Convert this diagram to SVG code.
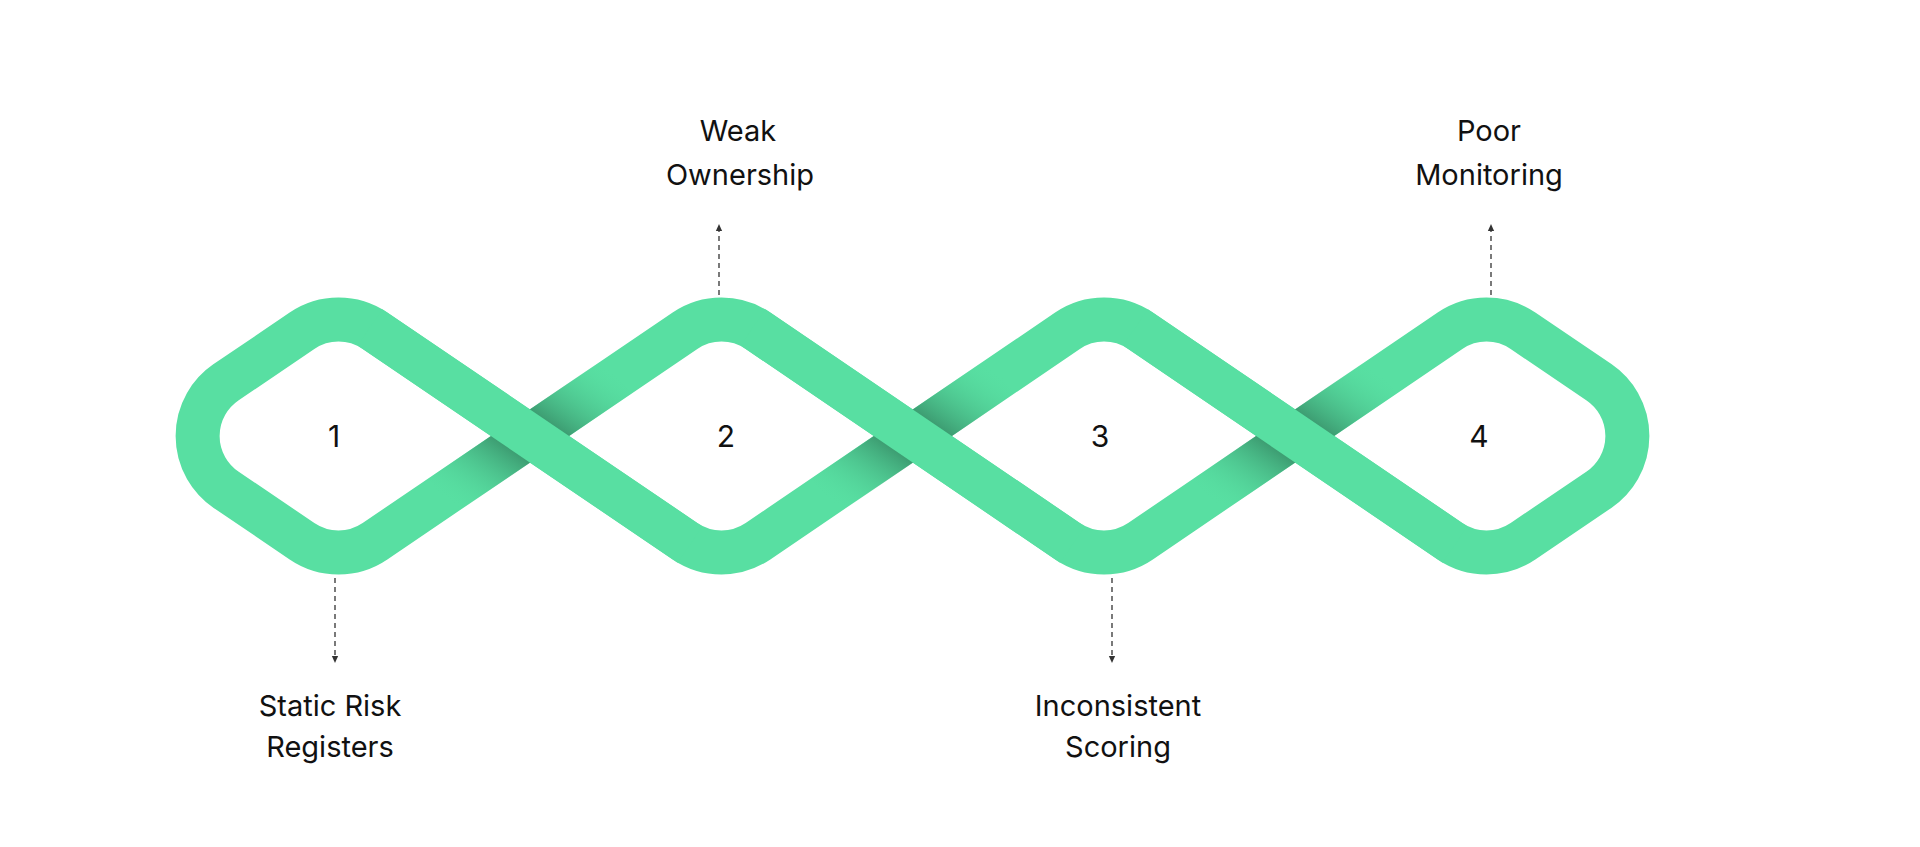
<svg xmlns="http://www.w3.org/2000/svg" width="1920" height="847" viewBox="0 0 1920 847">
<style>
.band{fill:none;stroke:#58DFA2;stroke-width:44;stroke-linejoin:round}
.over{fill:none;stroke:#58DFA2;stroke-width:44;stroke-linecap:butt}
.sh{fill:none;stroke:url(#sg);stroke-width:44;stroke-linecap:butt}
.dash{stroke:#333;stroke-width:1.3;stroke-dasharray:5 4;fill:none}
.num{font-family:Inter,"Liberation Sans",sans-serif;font-size:30px;fill:#111;text-anchor:middle}
.lbl{font-family:Inter,"Liberation Sans",sans-serif;font-size:29px;fill:#111;text-anchor:middle}
</style>
<defs>
<linearGradient id="sg" x1="0" y1="1" x2="1" y2="0">
<stop offset="0" stop-color="#58DFA2" stop-opacity="0"/>
<stop offset="0.5" stop-color="#2a6e50" stop-opacity="0.95"/>
<stop offset="1" stop-color="#58DFA2" stop-opacity="0"/>
</linearGradient>
<marker id="ah" viewBox="0 0 10 10" refX="5" refY="5" markerWidth="6" markerHeight="6" orient="auto">
<path d="M0,1 L9,5 L0,9 Z" fill="#333"/>
</marker>
</defs>
<rect width="1920" height="847" fill="#fff"/>
<g id="chain">
<path class="band" d="M226,382.3 L302,330.8 A65,65 0 0 1 375,330.8 L685,541.2 A65,65 0 0 0 758,541.2 L1067.5,330.8 A65,65 0 0 1 1140.5,330.8 L1450,541.2 A65,65 0 0 0 1523,541.2 L1599,489.7 A65,65 0 0 0 1599,382.3 L1523,330.8 A65,65 0 0 0 1450,330.8 L1140.5,541.2 A65,65 0 0 1 1067.5,541.2 L758,330.8 A65,65 0 0 0 685,330.8 L375,541.2 A65,65 0 0 1 302,541.2 L226,489.7 A65,65 0 0 1 226,382.3 Z"/>
<line class="sh" x1="441" y1="496.7" x2="619" y2="375.3"/>
<line class="sh" x1="824" y1="496.7" x2="1002" y2="375.3"/>
<line class="sh" x1="1206" y1="496.7" x2="1384" y2="375.3"/>
<line class="over" x1="370" y1="327.4" x2="690" y2="544.6"/>
<line class="over" x1="753" y1="327.4" x2="1072.5" y2="544.6"/>
<line class="over" x1="1135.5" y1="327.4" x2="1455" y2="544.6"/>
</g>
<g id="connectors">
<line class="dash" x1="335" y1="578" x2="335" y2="660" marker-end="url(#ah)"/>
<line class="dash" x1="719" y1="295" x2="719" y2="227" marker-end="url(#ah)"/>
<line class="dash" x1="1112" y1="578" x2="1112" y2="660" marker-end="url(#ah)"/>
<line class="dash" x1="1491" y1="295" x2="1491" y2="227" marker-end="url(#ah)"/>
</g>
<g id="node1"><text class="num" x="334" y="447">1</text><text class="lbl" x="330" y="716">Static Risk</text><text class="lbl" x="330" y="757">Registers</text></g>
<g id="node2"><text class="num" x="726" y="447">2</text><text class="lbl" x="738" y="141">Weak</text><text class="lbl" x="740" y="185">Ownership</text></g>
<g id="node3"><text class="num" x="1100" y="447">3</text><text class="lbl" x="1118" y="716">Inconsistent</text><text class="lbl" x="1118" y="757">Scoring</text></g>
<g id="node4"><text class="num" x="1479" y="447">4</text><text class="lbl" x="1489" y="141">Poor</text><text class="lbl" x="1489" y="185">Monitoring</text></g>
</svg>
